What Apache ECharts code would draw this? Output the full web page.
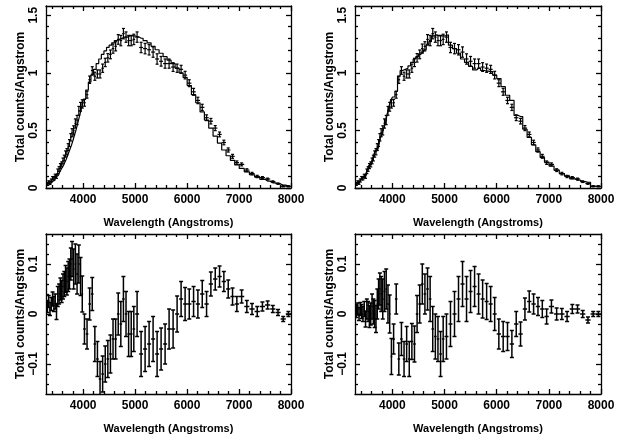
<!DOCTYPE html>
<html><head><meta charset="utf-8">
<script src="https://cdn.jsdelivr.net/npm/echarts@6/dist/echarts.min.js"></script>
<style>html,body{margin:0;padding:0;background:#fff}#c{width:627px;height:441px}</style>
</head><body><div id="c"></div>
<script>
const wl = [3312,3337,3362,3387,3412,3437,3462,3487,3512,3537,3562,3587,3612,3637,3662,3687,3712,3737,3762,3787,
 3817,3850,3883,3917,3950,3983,
 4025,4075,4125,4175,4225,4275,4325,4375,4425,4475,4525,4575,4625,4675,4725,4775,4825,4875,4925,4975,
 5038,5115,5192,5269,5346,5423,5500,5577,5654,5731,5808,5885,5962,
 6042,6125,6208,6292,6375,6458,6542,6625,6708,6792,6875,6958,
 7050,7150,7250,7350,7450,7550,7650,7750,7850,7950];
const binHalf = [12.5,12.5,12.5,12.5,12.5,12.5,12.5,12.5,12.5,12.5,12.5,12.5,12.5,12.5,12.5,12.5,12.5,12.5,12.5,12.5,
 16.5,16.5,16.5,16.5,16.5,16.5,
 25,25,25,25,25,25,25,25,25,25,25,25,25,25,25,25,25,25,25,25,
 38.5,38.5,38.5,38.5,38.5,38.5,38.5,38.5,38.5,38.5,38.5,38.5,38.5,
 41.5,41.5,41.5,41.5,41.5,41.5,41.5,41.5,41.5,41.5,41.5,41.5,
 50,50,50,50,50,50,50,50,50,50];
const fluxErr = [0.012,0.012,0.013,0.013,0.014,0.015,0.015,0.016,0.02,0.02,0.022,0.022,0.025,0.025,0.027,0.027,0.03,0.03,0.032,0.035,
 0.04,0.04,0.04,0.038,0.038,0.036,
 0.03,0.03,0.032,0.033,0.035,0.035,0.035,0.036,0.036,0.037,0.038,0.04,0.04,0.042,0.045,0.045,0.045,0.045,0.045,0.045,
 0.045,0.045,0.045,0.045,0.045,0.045,0.042,0.04,0.04,0.038,0.036,0.035,0.033,
 0.03,0.03,0.028,0.027,0.025,0.024,0.022,0.021,0.02,0.018,0.017,0.015,
 0.013,0.012,0.011,0.01,0.009,0.008,0.007,0.006,0.005,0.005];
const flux = [0.035,0.05,0.045,0.065,0.085,0.085,0.105,0.1,0.145,0.165,0.19,0.205,0.235,0.26,0.295,0.315,0.355,0.39,0.44,0.48,
 0.5,0.56,0.59,0.67,0.705,0.73,
 0.74,0.81,0.94,1.02,0.97,0.99,0.99,1.04,1.09,1.13,1.16,1.21,1.23,1.29,1.28,1.34,1.31,1.28,1.28,1.29,
 1.31,1.22,1.21,1.2,1.18,1.12,1.1,1.08,1.08,1.05,1.04,1.03,0.98,
 0.91,0.835,0.76,0.7,0.61,0.58,0.52,0.465,0.395,0.33,0.275,0.22,
 0.205,0.155,0.125,0.1,0.09,0.078,0.055,0.038,0.015,0.015];
const model1 = [0.02,0.025,0.035,0.045,0.055,0.065,0.08,0.095,0.11,0.125,0.14,0.16,0.18,0.2,0.225,0.25,0.28,0.31,0.34,0.37,
 0.41,0.46,0.51,0.57,0.63,0.69,
 0.77,0.85,0.92,0.98,1.03,1.08,1.12,1.16,1.19,1.22,1.24,1.26,1.28,1.29,1.3,1.31,1.31,1.32,1.32,1.32,
 1.31,1.3,1.28,1.26,1.23,1.2,1.17,1.14,1.11,1.08,1.04,1.0,0.96,
 0.89,0.81,0.74,0.66,0.59,0.52,0.45,0.39,0.33,0.28,0.24,0.2,
 0.17,0.14,0.115,0.095,0.075,0.06,0.045,0.035,0.025,0.015];
const resid1 = [0.015,0.025,0.01,0.02,0.03,0.02,0.025,0.005,0.035,0.04,0.05,0.045,0.055,0.06,0.07,0.065,0.075,0.08,0.1,0.11,
 0.09,0.1,0.08,0.1,0.075,0.04,
 -0.03,-0.04,0.02,0.04,-0.06,-0.09,-0.13,-0.12,-0.1,-0.09,-0.08,-0.05,-0.05,0.0,-0.02,0.03,0.0,-0.04,-0.04,-0.03,
 0.0,-0.08,-0.07,-0.06,-0.05,-0.08,-0.07,-0.06,-0.03,-0.03,0.0,0.03,0.02,
 0.02,0.025,0.02,0.04,0.02,0.06,0.07,0.075,0.065,0.05,0.035,0.02,
 0.035,0.015,0.01,0.005,0.015,0.018,0.01,0.003,-0.01,0.0];
const model2 = [0.03,0.04,0.045,0.055,0.08,0.085,0.095,0.11,0.135,0.16,0.195,0.205,0.22,0.255,0.295,0.325,0.335,0.35,0.39,0.44,
 0.47,0.515,0.56,0.64,0.7,0.76,
 0.79,0.84,0.97,1.02,1.03,1.04,1.06,1.09,1.12,1.14,1.16,1.18,1.2,1.24,1.27,1.32,1.33,1.32,1.32,1.32,
 1.33,1.24,1.21,1.17,1.12,1.09,1.055,1.025,1.04,1.02,1.015,1.01,0.98,
 0.95,0.88,0.805,0.76,0.63,0.62,0.51,0.44,0.375,0.315,0.265,0.225,
 0.19,0.155,0.125,0.105,0.08,0.068,0.055,0.05,0.015,0.015];
const resid2 = [0.005,0.01,0.0,0.01,0.005,0.0,0.01,-0.01,0.01,0.005,-0.005,0.0,0.015,0.005,0.0,-0.01,0.02,0.04,0.05,0.04,
 0.03,0.045,0.05,0.02,0.0,-0.085,
 -0.05,0.03,-0.09,-0.05,-0.09,-0.06,-0.09,-0.055,-0.06,0.0,0.02,0.06,0.04,0.05,0.03,-0.03,-0.045,-0.05,-0.08,-0.05,
 -0.045,-0.02,0.0,0.03,0.06,0.03,0.045,0.055,0.04,0.03,0.025,0.02,0.0,
 -0.04,-0.045,-0.045,-0.06,-0.02,-0.04,0.01,0.025,0.02,0.015,0.01,-0.005,
 0.015,0.0,0.0,-0.005,0.01,0.01,0.0,-0.012,0.0,0.0];

const xMajor = [4000,5000,6000,7000,8000];
const xMinor = [3400,3600,3800,4200,4400,4600,4800,5200,5400,5600,5800,6200,6400,6600,6800,7200,7400,7600,7800];
const yFluxMajor = [0,0.5,1,1.5];
const yFluxMinor = [0.1,0.2,0.3,0.4,0.6,0.7,0.8,0.9,1.1,1.2,1.3,1.4];
const yResMajor = [-0.1,0,0.1];
const yResMinor = [-0.14,-0.12,-0.08,-0.06,-0.04,-0.02,0.02,0.04,0.06,0.08,0.12,0.14];

const xName = 'Wavelength (Angstroms)';
const yName = 'Total counts/Angstrom';

const FONT = 'Liberation Sans';
const grids = [
  {left:46, top:6, width:245, height:182},
  {left:355, top:6, width:246, height:182},
  {left:46, top:234, width:245, height:160},
  {left:355, top:234, width:246, height:160}
];
const X_MIN = 3285, X_MAX = 8000;
const lineStyle = {color:'#000', width:1.3};
const labelStyle = {color:'#000', fontFamily:FONT, fontWeight:'bold', fontSize:12};
const fmt = v => String(v).replace('-', '\u2212');

const xAxes = [], yAxes = [];
function addAxes(g, yMin, yMax, yMaj, yMin2) {
  const base = {type:'value', gridIndex:g, min:X_MIN, max:X_MAX, splitLine:{show:false}};
  xAxes.push(Object.assign({}, base, {position:'bottom', axisLine:{show:true, onZero:false, lineStyle},
    axisTick:{show:true, inside:true, length:5, customValues:xMajor, lineStyle},
    axisLabel:{show:true, customValues:xMajor, margin:6, formatter:fmt, ...labelStyle},
    name:xName, nameLocation:'middle', nameGap:29, nameTextStyle:{...labelStyle, fontSize:11}}));
  xAxes.push(Object.assign({}, base, {position:'bottom', axisLine:{show:false, onZero:false},
    axisTick:{show:true, inside:true, length:3, customValues:xMinor, lineStyle}, axisLabel:{show:false}}));
  xAxes.push(Object.assign({}, base, {position:'top', axisLine:{show:true, onZero:false, lineStyle},
    axisTick:{show:true, inside:true, length:5, customValues:xMajor, lineStyle}, axisLabel:{show:false}}));
  xAxes.push(Object.assign({}, base, {position:'top', axisLine:{show:false, onZero:false},
    axisTick:{show:true, inside:true, length:3, customValues:xMinor, lineStyle}, axisLabel:{show:false}}));
  const yb = {type:'value', gridIndex:g, min:yMin, max:yMax, splitLine:{show:false}};
  yAxes.push(Object.assign({}, yb, {position:'left', axisLine:{show:true, onZero:false, lineStyle},
    axisTick:{show:true, inside:true, length:5, customValues:yMaj, lineStyle},
    axisLabel:{show:true, customValues:yMaj, rotate:90, margin:6, formatter:fmt, ...labelStyle},
    name:yName, nameLocation:'middle', nameGap:19, nameRotate:90, nameTextStyle:{...labelStyle, fontSize:12}}));
  yAxes.push(Object.assign({}, yb, {position:'left', axisLine:{show:false, onZero:false},
    axisTick:{show:true, inside:true, length:3, customValues:yMin2, lineStyle}, axisLabel:{show:false}}));
  yAxes.push(Object.assign({}, yb, {position:'right', axisLine:{show:true, onZero:false, lineStyle},
    axisTick:{show:true, inside:true, length:5, customValues:yMaj, lineStyle}, axisLabel:{show:false}}));
  yAxes.push(Object.assign({}, yb, {position:'right', axisLine:{show:false, onZero:false},
    axisTick:{show:true, inside:true, length:3, customValues:yMin2, lineStyle}, axisLabel:{show:false}}));
}
addAxes(0, 0, 1.58, yFluxMajor, yFluxMinor);
addAxes(1, 0, 1.58, yFluxMajor, yFluxMinor);
addAxes(2, -0.16, 0.16, yResMajor, yResMinor);
addAxes(3, -0.16, 0.16, yResMajor, yResMinor);

function errRenderer(lw, cap) {
  return function (params, api) {
    const x = api.value(0), y = api.value(1), xe = api.value(2), ye = api.value(3);
    const p = api.coord([x, y]);
    const pl = api.coord([x - xe, y]);
    const pr = api.coord([x + xe, y]);
    const pt = api.coord([x, y + ye]);
    const pb = api.coord([x, y - ye]);
    const style = {stroke:'#000', lineWidth:lw};
    return {type:'group', children:[
      {type:'line', shape:{x1:pl[0], y1:p[1], x2:pr[0], y2:p[1]}, style},
      {type:'line', shape:{x1:p[0], y1:pt[1], x2:p[0], y2:pb[1]}, style},
      {type:'line', shape:{x1:p[0]-cap, y1:pt[1], x2:p[0]+cap, y2:pt[1]}, style},
      {type:'line', shape:{x1:p[0]-cap, y1:pb[1], x2:p[0]+cap, y2:pb[1]}, style}
    ]};
  };
}
function errData(vals) { return wl.map((w, i) => [w, vals[i], binHalf[i], fluxErr[i]]); }
function modelData(vals) { return wl.map((w, i) => [w, vals[i]]); }

const series = [];
[[0, model1], [1, model2]].forEach(([g, m]) => {
  series.push({type:'line', xAxisIndex:g*4, yAxisIndex:g*4, data:modelData(m), step:'middle',
    symbol:'none', lineStyle:{color:'#000', width:1.2}, silent:true, animation:false});
  series.push({type:'custom', xAxisIndex:g*4, yAxisIndex:g*4, data:errData(flux), clip:true,
    renderItem:errRenderer(1.2, 1.5), animation:false, silent:true});
});
[[2, resid1], [3, resid2]].forEach(([g, r]) => {
  series.push({type:'custom', xAxisIndex:g*4, yAxisIndex:g*4, data:errData(r), clip:true,
    renderItem:errRenderer(1.5, 2), animation:false, silent:true});
});

const chart = echarts.init(document.getElementById('c'), null, {renderer:'canvas'});
chart.setOption({animation:false, backgroundColor:'#fff', grid:grids, xAxis:xAxes, yAxis:yAxes, series});
</script></body></html>
